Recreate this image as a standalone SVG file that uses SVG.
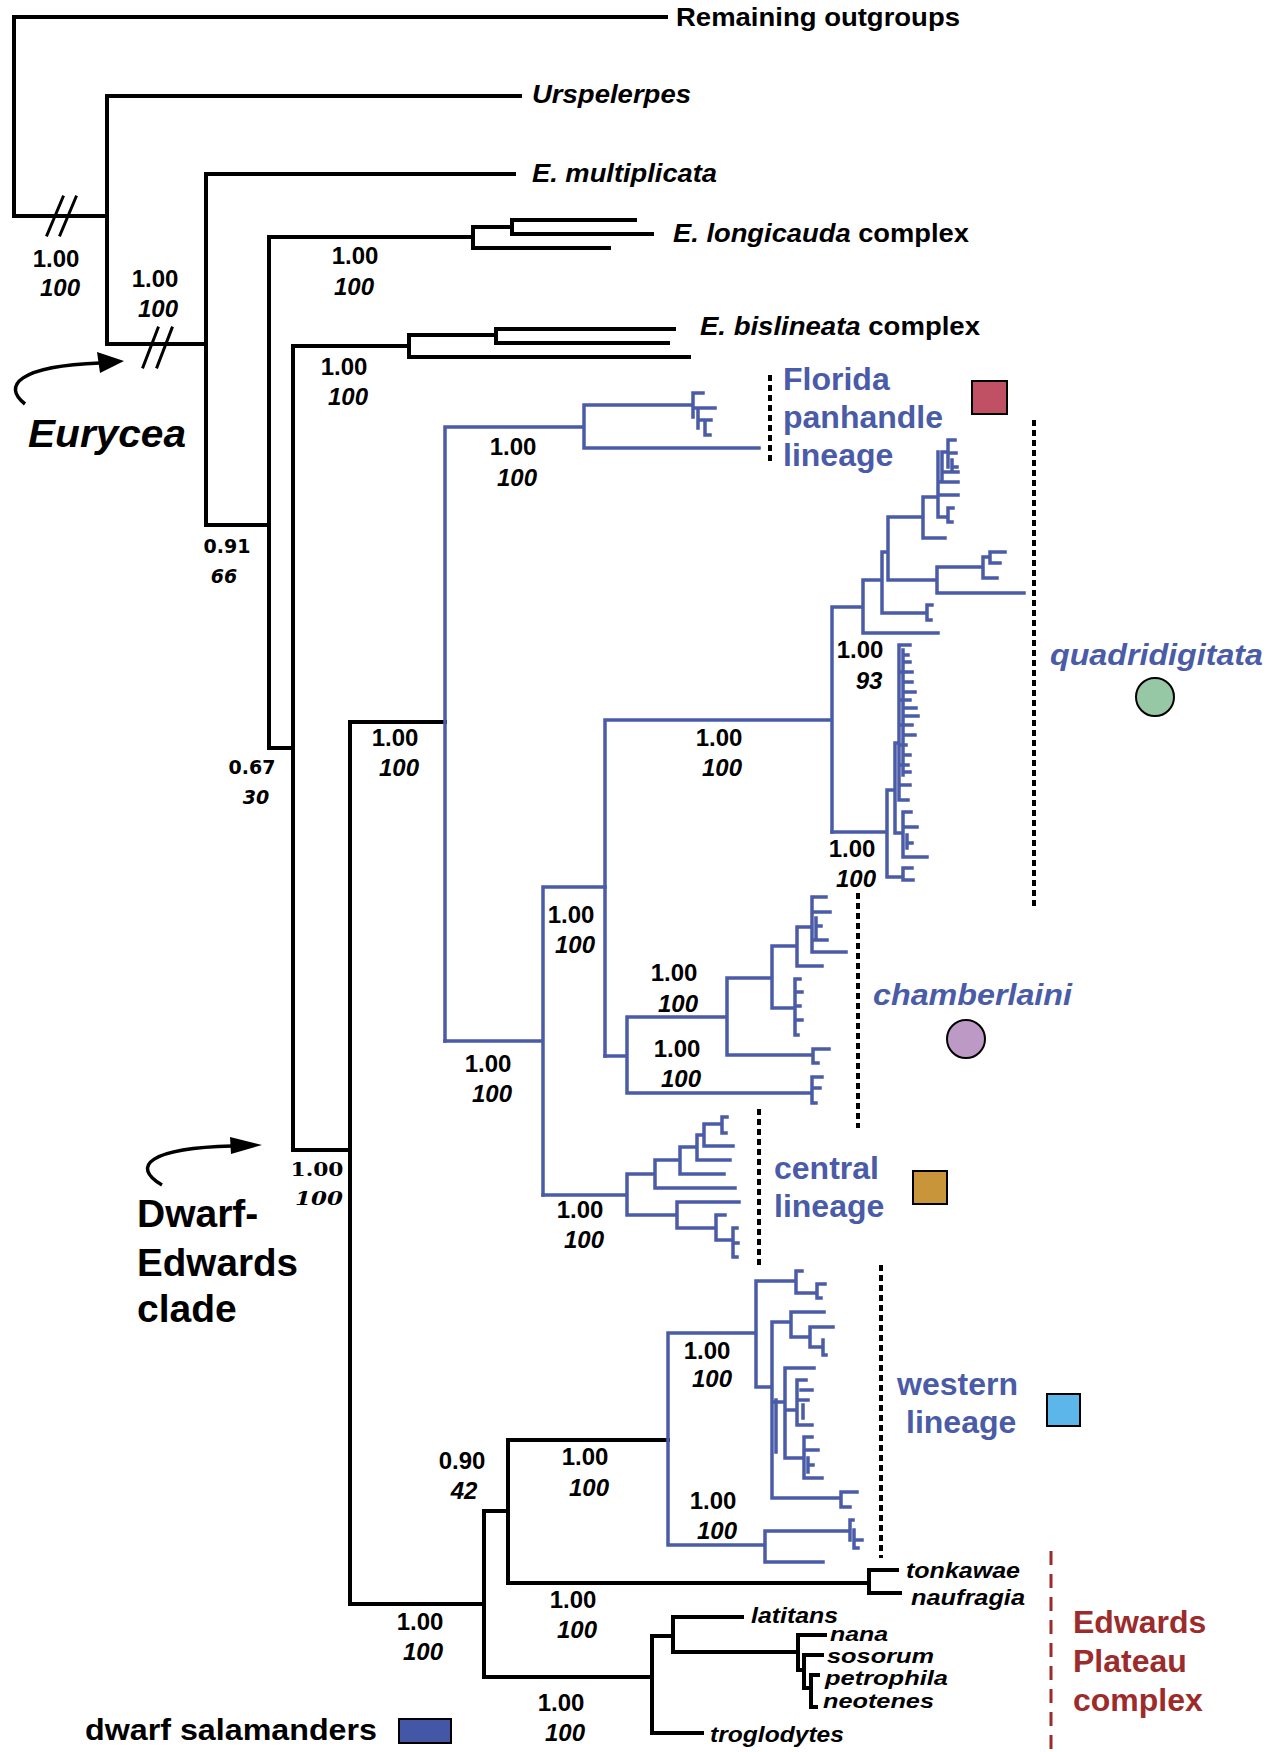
<svg xmlns="http://www.w3.org/2000/svg" width="1270" height="1752" viewBox="0 0 1270 1752">
<style>
.k{stroke:#000;stroke-width:4;fill:none;stroke-linecap:square}
.b{stroke:#4a5ba8;stroke-width:3.5;fill:none;stroke-linecap:square}
.dot{stroke:#000;stroke-width:4;stroke-dasharray:6 4;fill:none}
.red{stroke:#9c2b2b;stroke-width:3;stroke-dasharray:14 9;fill:none}
text{font-family:"Liberation Sans",Arial,sans-serif;font-weight:bold}
.n{font-size:24px;text-anchor:middle}
.ni{font-size:24px;text-anchor:middle;font-style:italic}
.v{font-family:"DejaVu Sans",sans-serif;font-size:19px;text-anchor:middle}
.vi{font-family:"DejaVu Sans",sans-serif;font-size:19px;text-anchor:middle;font-style:italic}
.s{font-family:"DejaVu Serif",serif;font-size:18px;text-anchor:middle}
.si{font-family:"DejaVu Serif",serif;font-size:18px;text-anchor:middle;font-style:italic}
.tx{font-size:26px}
.it{font-style:italic}
.sp{font-size:22px;font-style:italic}
.sq{font-size:21px;font-style:italic}
.bl{fill:#4a5ba8;font-size:32px}
.ep{fill:#9c2b2b;font-size:32px}
.big{font-size:39px}
.mk{stroke:#000;stroke-width:2}
</style>

<g id="connectors">
<path class="k" d="M14 17H666M14 17V216H107M107 96V344M107 96H520M107 344H206M206 174V525M206 174H514M206 525H269M269 237V748M269 237H473M473 227V248M473 227H512M512 220V234M512 220H635M512 234H652M473 248H609M269 748H293M293 346V1150M293 346H409M409 335V357M409 335H496M496 329V343M496 329H674M496 343H668M409 357H689M293 1150H350M350 722V1604M350 722H445M350 1604H484M484 1511V1677M484 1511H508M508 1440V1583M508 1440H668M508 1583H869M869 1570V1593M869 1570H897M869 1593H900M484 1677H652M652 1636V1733M652 1733H702M652 1636H673M673 1617V1652M673 1617H742M673 1652H798M798 1635V1670M798 1635H825M798 1670H804M804 1655V1688M804 1655H822M804 1688H811M811 1675V1707M811 1675H818M811 1707H816"/>
<path class="k" d="M47 235L63 197M60 235L76 197M143 367L158 328M157 367L172 328" style="stroke-width:3"/>
<!-- Florida -->
<path class="b" d="M445 427V1041M445 427H584M584 405V448M584 405H693M693 393V417M693 393H703M693 408H715M698 408V428M698 420H708M705 420V435M705 420H711M705 435H710M584 448H759"/>
<!-- quadridigitata -->
<path class="b" d="M605 720V1056M605 720H832M832 607V832M832 607H863M863 580V633M863 633H938M863 580H882M882 552V613M882 613H927M927 605V620M927 605H932M927 620H931M882 552H888M888 517V580M888 580H937M937 567V593M937 593H1024M937 567H983M983 557V578M983 578H997M983 557H990M990 552V563M990 552H1005M990 563H1000M888 517H923M923 497V538M923 538H945M923 497H938M938 452V517M938 482H958M938 495H958M938 517H948M948 508V522M948 508H953M948 522H952M942 452V480M942 452H948M948 440V467M948 440H955M948 453H956M952 460V470M952 467H957M942 472H958"/>
<path class="b" d="M832 832H887M887 790V877M887 877H903M903 868V880M903 868H912M903 880H913M887 790H895M895 743V833M895 833H903M903 812V857M903 812H911M903 827H917M907 835V848M907 843H912M903 857H927M895 743H899M899 645V800M903 650V775M899 645H910M903 655H908M903 662H910M899 672H912M903 682H912M903 692H915M899 700H910M903 708H916M903 716H918M899 725H912M903 735H915M899 745H906M903 755H910M899 765H908M903 772H910M899 785H910M899 800H908"/>
<!-- chamberlaini -->
<path class="b" d="M543 887V1195M543 887H605M445 1041H543M605 1056H627M627 1017V1093M627 1017H727M627 1093H812M812 1077V1103M812 1077H822M812 1088H820M812 1103H816M727 978V1055M727 1055H813M813 1049V1063M813 1049H829M813 1063H818M727 978H772M772 946V1008M772 1008H795M795 979V1035M795 979H800M795 992H802M795 1006H800M795 1020H802M795 1035H798M772 946H797M797 927V966M797 966H822M797 927H812M812 897V952M812 897H826M812 912H830M816 918V940M816 926H821M812 940H827M812 952H846"/>
<!-- central -->
<path class="b" d="M543 1195H627M627 1174V1215M627 1174H655M655 1160V1188M655 1188H735M655 1160H680M680 1147V1174M680 1174H724M680 1147H697M697 1135V1160M697 1160H730M697 1135H704M704 1124V1146M704 1146H733M704 1124H722M722 1117V1133M722 1117H727M722 1133H726M627 1215H677M677 1202V1228M677 1202H739M677 1228H716M716 1215V1240M716 1215H725M716 1240H733M733 1228V1257M733 1228H737M733 1243H738M733 1257H737"/>
<!-- western -->
<path class="b" d="M668 1333V1545M668 1333H756M756 1281V1387M756 1281H796M796 1271V1293M796 1271H802M796 1293H817M817 1284V1298M817 1284H825M817 1298H821M756 1387H772M772 1322V1498M776 1400V1452M772 1322H791M791 1312V1337M791 1312H824M791 1337H810M810 1327V1347M810 1327H833M810 1347H823M823 1340V1355M823 1355H826M772 1402H785M785 1368V1458M785 1368H814M785 1410H797M797 1380V1425M797 1380H806M801 1390H812M797 1400H808M803 1405V1418M797 1425H812M785 1458H804M804 1437V1478M804 1437H812M804 1450H818M808 1458V1472M808 1465H813M804 1478H822M772 1498H841M841 1492V1507M841 1492H857M841 1507H850M668 1545H765M765 1531V1562M765 1562H823M765 1531H850M850 1520V1540M850 1520H853M854 1530V1548M854 1540H862M854 1548H858"/>
<!-- arrows -->
<path d="M25 404C2 386 18 366 100 363" stroke="#000" stroke-width="3.5" fill="none"/>
<polygon points="124,361 97,352 100,373" fill="#000"/>
<path d="M162 1185C130 1166 150 1148 232 1146" stroke="#000" stroke-width="3.5" fill="none"/>
<polygon points="262,1145 230,1137 231,1154" fill="#000"/>
<!-- brackets -->
<path class="dot" d="M770 375V463M1034 420V910M858 893V1128M759 1109V1267M881 1265V1558"/>
<path class="red" d="M1051 1551V1752"/>
</g>

<g id="taxa">
<text class="tx" x="676" y="26" textLength="284" lengthAdjust="spacingAndGlyphs">Remaining outgroups</text>
<text class="tx it" x="532" y="103" textLength="159" lengthAdjust="spacingAndGlyphs">Urspelerpes</text>
<text class="tx it" x="532" y="182" textLength="185" lengthAdjust="spacingAndGlyphs">E. multiplicata</text>
<text class="tx" x="673" y="242" textLength="296" lengthAdjust="spacingAndGlyphs"><tspan class="it">E. longicauda</tspan> complex</text>
<text class="tx" x="700" y="335" textLength="280" lengthAdjust="spacingAndGlyphs"><tspan class="it">E. bislineata</tspan> complex</text>
<text class="sp" x="906" y="1578" textLength="114" lengthAdjust="spacingAndGlyphs">tonkawae</text>
<text class="sp" x="911" y="1605" textLength="114" lengthAdjust="spacingAndGlyphs">naufragia</text>
<text class="sp" x="751" y="1623" textLength="87" lengthAdjust="spacingAndGlyphs">latitans</text>
<text class="sq" x="830" y="1641" textLength="58" lengthAdjust="spacingAndGlyphs">nana</text>
<text class="sq" x="827" y="1663" textLength="107" lengthAdjust="spacingAndGlyphs">sosorum</text>
<text class="sq" x="825" y="1685" textLength="123" lengthAdjust="spacingAndGlyphs">petrophila</text>
<text class="sq" x="823" y="1708" textLength="111" lengthAdjust="spacingAndGlyphs">neotenes</text>
<text class="sp" x="710" y="1742" textLength="134" lengthAdjust="spacingAndGlyphs">troglodytes</text>
</g>

<g id="clades">
<text class="big it" x="28" y="447" textLength="158" lengthAdjust="spacingAndGlyphs">Eurycea</text>
<text class="big" x="137" y="1227">Dwarf-</text>
<text class="big" x="137" y="1276" textLength="161" lengthAdjust="spacingAndGlyphs">Edwards</text>
<text class="big" x="137" y="1322">clade</text>
<text class="bl" x="783" y="390">Florida</text>
<text class="bl" x="783" y="428">panhandle</text>
<text class="bl" x="783" y="466">lineage</text>
<text class="bl it" x="1050" y="665" textLength="213" lengthAdjust="spacingAndGlyphs" style="font-size:30px">quadridigitata</text>
<text class="bl it" x="873" y="1005" textLength="199" lengthAdjust="spacingAndGlyphs" style="font-size:30px">chamberlaini</text>
<text class="bl" x="774" y="1179">central</text>
<text class="bl" x="774" y="1217">lineage</text>
<text class="bl" x="897" y="1395">western</text>
<text class="bl" x="906" y="1433">lineage</text>
<text class="ep" x="1073" y="1633">Edwards</text>
<text class="ep" x="1073" y="1672">Plateau</text>
<text class="ep" x="1073" y="1711">complex</text>
</g>

<g id="markers">
<rect x="972" y="381" width="35" height="33" fill="#c05064" class="mk"/>
<circle cx="1155" cy="697" r="19" fill="#96c8a6" class="mk"/>
<circle cx="966" cy="1039" r="19" fill="#bd9ac6" class="mk"/>
<rect x="913" y="1171" width="34" height="33" fill="#c9953a" class="mk"/>
<rect x="1047" y="1394" width="33" height="32" fill="#5cb6e9" class="mk"/>
</g>

<g id="legend">
<text x="85" y="1740" style="font-size:29px" textLength="292" lengthAdjust="spacingAndGlyphs">dwarf salamanders</text>
<rect x="399" y="1719" width="52" height="24" fill="#4456a6" class="mk"/>
</g>

<g id="support">
<text class="n" x="56" y="267">1.00</text><text class="ni" x="60" y="296">100</text>
<text class="n" x="155" y="287">1.00</text><text class="ni" x="158" y="317">100</text>
<text class="n" x="355" y="264">1.00</text><text class="ni" x="354" y="295">100</text>
<text class="n" x="344" y="375">1.00</text><text class="ni" x="348" y="405">100</text>
<text class="n" x="395" y="746">1.00</text><text class="ni" x="399" y="776">100</text>
<text class="n" x="513" y="455">1.00</text><text class="ni" x="517" y="486">100</text>
<text class="n" x="719" y="746">1.00</text><text class="ni" x="722" y="776">100</text>
<text class="n" x="860" y="658">1.00</text><text class="ni" x="869" y="689">93</text>
<text class="n" x="852" y="857">1.00</text><text class="ni" x="856" y="887">100</text>
<text class="n" x="571" y="923">1.00</text><text class="ni" x="575" y="953">100</text>
<text class="n" x="488" y="1072">1.00</text><text class="ni" x="492" y="1102">100</text>
<text class="n" x="674" y="981">1.00</text><text class="ni" x="678" y="1012">100</text>
<text class="n" x="677" y="1057">1.00</text><text class="ni" x="681" y="1087">100</text>
<text class="n" x="580" y="1218">1.00</text><text class="ni" x="584" y="1248">100</text>
<text class="n" x="707" y="1359">1.00</text><text class="ni" x="712" y="1387">100</text>
<text class="n" x="713" y="1509">1.00</text><text class="ni" x="717" y="1539">100</text>
<text class="n" x="585" y="1465">1.00</text><text class="ni" x="589" y="1496">100</text>
<text class="n" x="462" y="1469">0.90</text><text class="ni" x="464" y="1499">42</text>
<text class="n" x="573" y="1608">1.00</text><text class="ni" x="577" y="1638">100</text>
<text class="n" x="420" y="1630">1.00</text><text class="ni" x="423" y="1660">100</text>
<text class="n" x="561" y="1711">1.00</text><text class="ni" x="565" y="1741">100</text>
<text class="v" x="227" y="553">0.91</text><text class="vi" x="224" y="583">66</text>
<text class="v" x="252" y="774">0.67</text><text class="vi" x="256" y="804">30</text>
<text class="s" x="317" y="1176" textLength="53" lengthAdjust="spacingAndGlyphs">1.00</text><text class="si" x="319" y="1205" textLength="48" lengthAdjust="spacingAndGlyphs">100</text>
</g>
</svg>
